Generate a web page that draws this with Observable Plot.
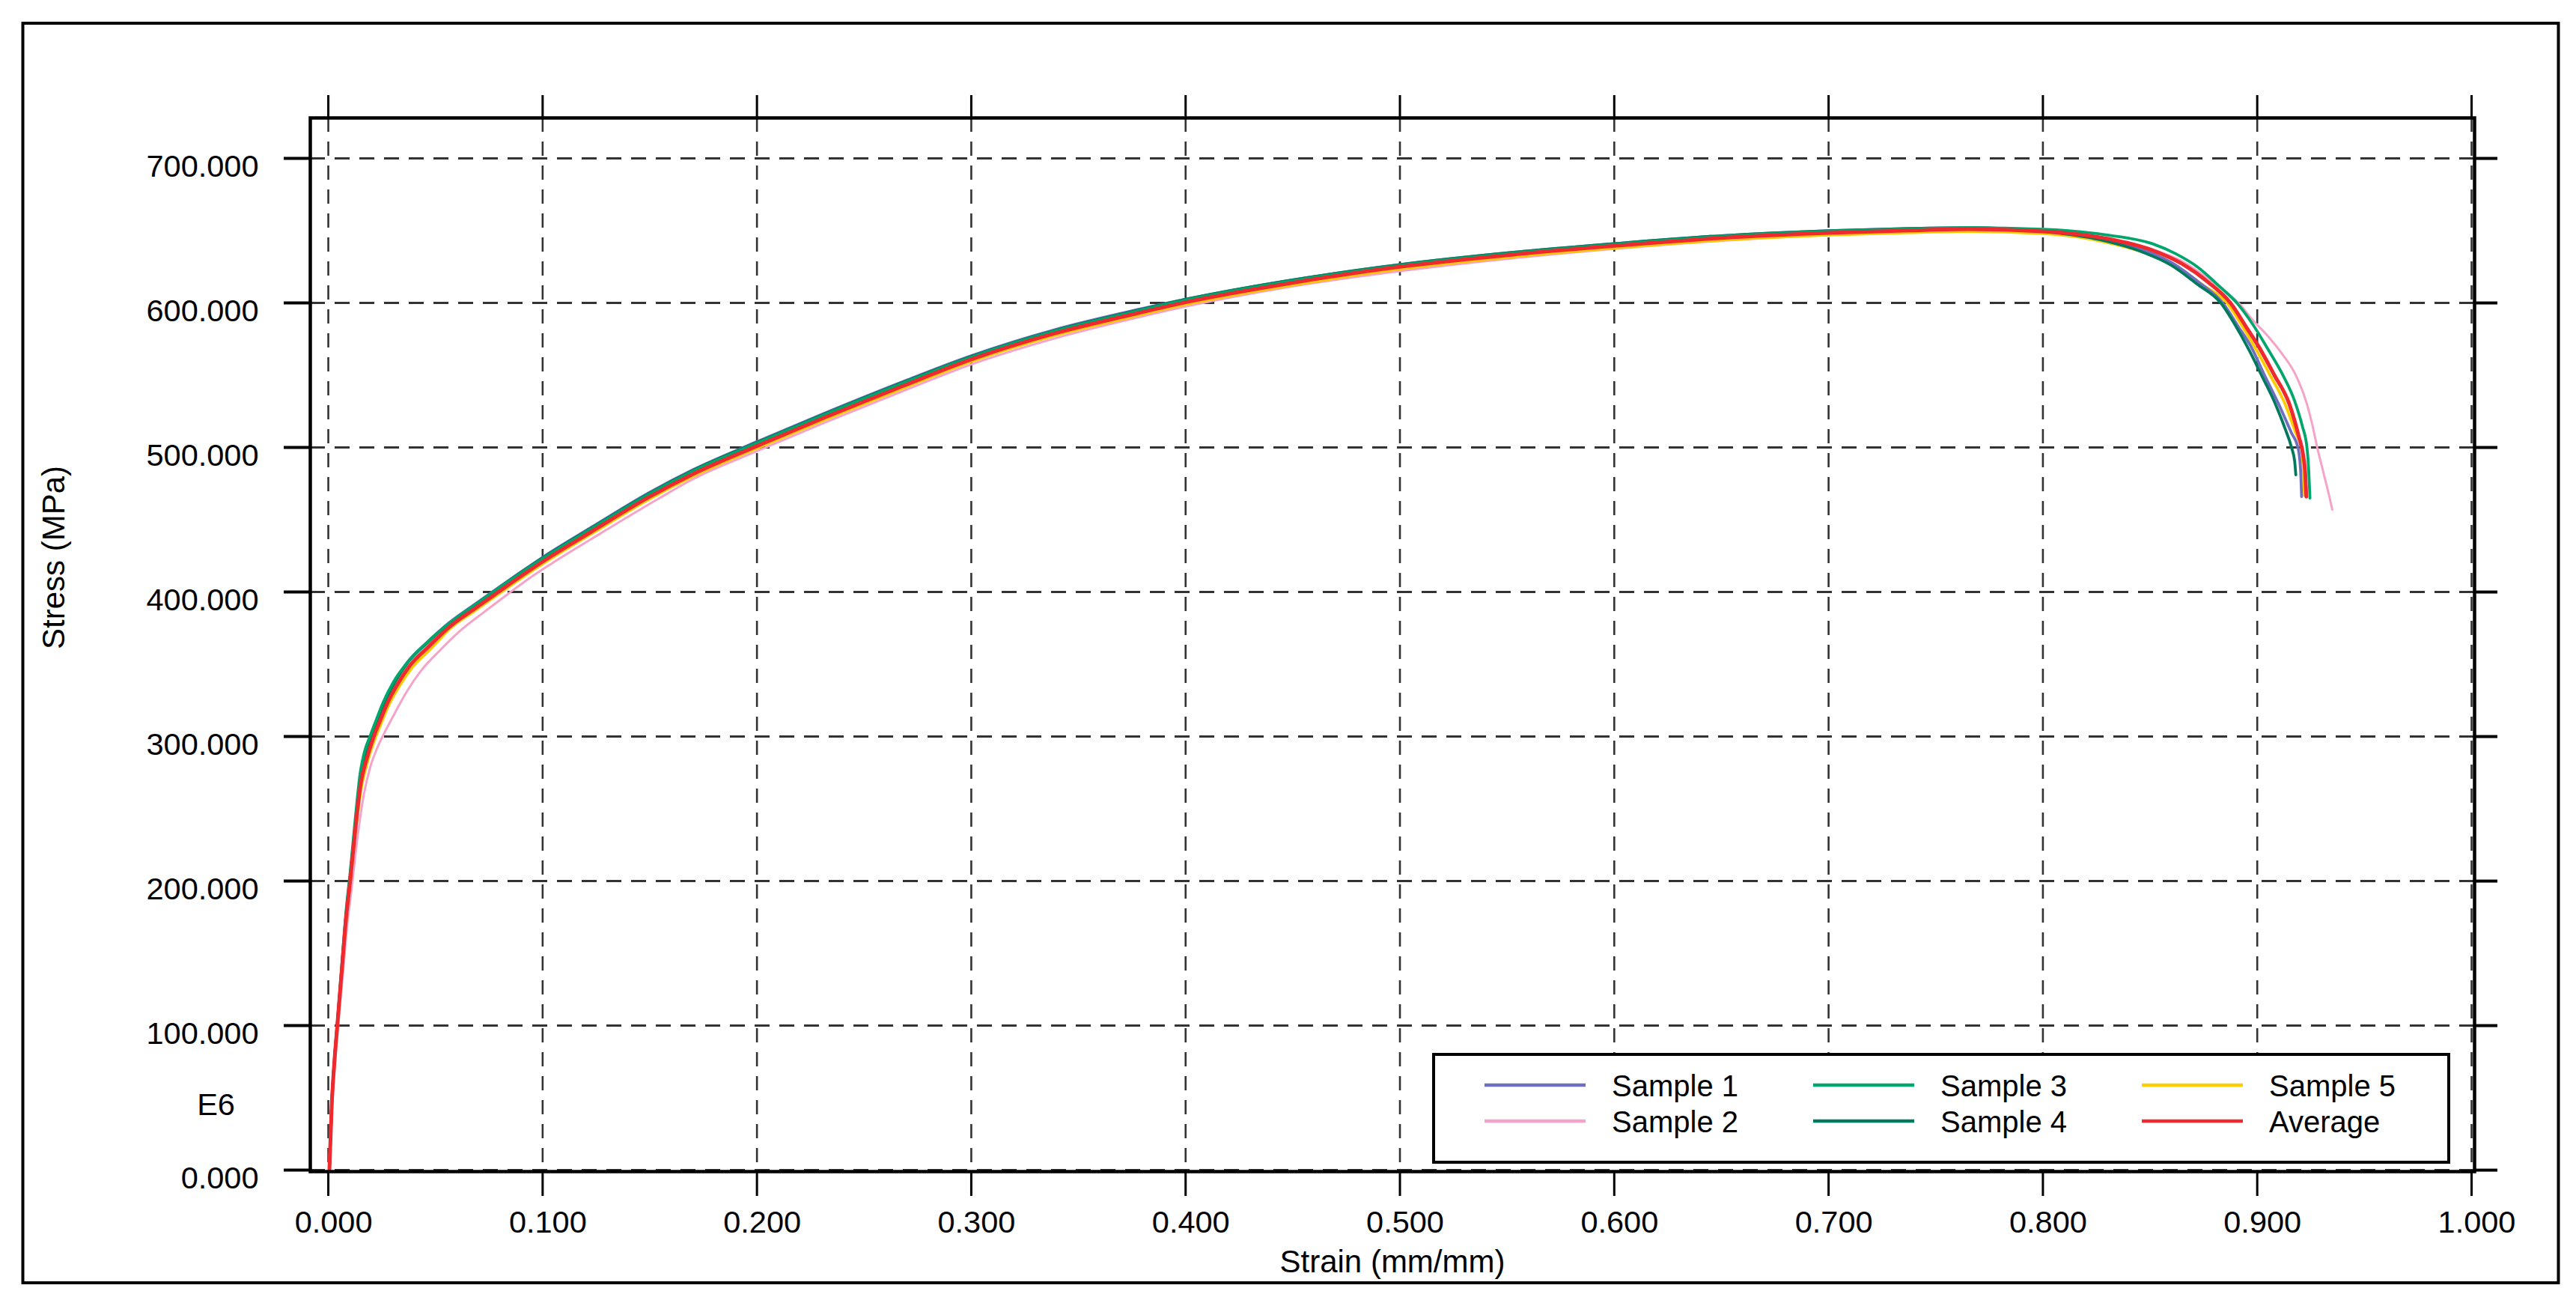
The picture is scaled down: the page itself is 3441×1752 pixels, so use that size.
<!DOCTYPE html>
<html>
<head>
<meta charset="utf-8">
<script src="https://cdn.jsdelivr.net/npm/d3@7"></script>
<script src="https://cdn.jsdelivr.net/npm/@observablehq/plot@0.6"></script>
<style>
  html, body { margin: 0; padding: 0; background: #ffffff; }
  svg { display: block; }
</style>
</head>
<body>
<div id="chart"></div>
<script>
// ---------- DATA (strain mm/mm, stress MPa) ----------
const seriesNames = ["Sample 1", "Sample 2", "Sample 3", "Sample 4", "Sample 5", "Average"];
const seriesColors = ["#6f6fbf", "#f5a3c8", "#00a66b", "#00795c", "#ffcc00", "#ee2a2f"];

const xTicks = [0, 0.1, 0.2, 0.3, 0.4, 0.5, 0.6, 0.7, 0.8, 0.9, 1.0];
const yTicks = [0, 100, 200, 300, 400, 500, 600, 700];

const sample1 = [
  [0.0005,0],[0.0016,45],[0.003,79],[0.0042,101],[0.0065,144],[0.0082,175],[0.0102,203],[0.0127,241],
  [0.0150,271],[0.0172,287],[0.0203,301],[0.0230,311.5],[0.0262,323.5],[0.0310,337.5],[0.037,351.5],[0.046,365],
  [0.0566,379],[0.0683,391.5],[0.0793,403],[0.0897,413.7],[0.100,424],[0.123,445],[0.150,469],[0.170,484.5],
  [0.200,504],[0.232,524],[0.268,545.5],[0.300,563.5],[0.339,581.5],[0.375,594.5],[0.400,602.5],[0.446,615],
  [0.500,626.5],[0.553,635],[0.600,641],[0.650,646.5],[0.700,650],[0.738,651.5],[0.765,652],[0.800,650],
  [0.828,644.5],[0.848,636],[0.861,627],[0.873,614],[0.8839,600],[0.891,584],[0.897,570],[0.9034,550],
  [0.910,530],[0.9160,510],[0.919,500],[0.9202,485],[0.9207,466]
];
const sample2 = [
  [0.0005,0],[0.0018,44],[0.0033,77],[0.0045,98],[0.0070,139],[0.0088,169],[0.0109,195],[0.0136,230],
  [0.0166,260],[0.0198,280],[0.0228,292],[0.0260,302],[0.0290,310.5],[0.0322,319.5],[0.037,332],[0.043,345],
  [0.052,359.5],[0.0614,373],[0.073,386.5],[0.0837,398.5],[0.0938,409.5],[0.104,419.5],[0.127,440.5],[0.154,464.5],
  [0.170,478],[0.200,497.5],[0.232,517.5],[0.268,539],[0.300,557.5],[0.339,575.5],[0.375,589],[0.400,597.5],
  [0.446,610.5],[0.500,622],[0.553,631],[0.600,637.5],[0.650,643],[0.700,647],[0.738,649],[0.765,650],
  [0.800,648.5],[0.830,644],[0.851,637],[0.866,628],[0.876,618],[0.885,608],[0.8913,600],[0.898,588],
  [0.905,577],[0.912,564],[0.918,550],[0.923,531],[0.9255,517],[0.928,500],[0.931,482],[0.9335,467],[0.935,457]
];
const sample3 = [
  [0.0005,0],[0.0016,46],[0.003,80],[0.0042,102],[0.0065,146],[0.0082,178],[0.0102,206],[0.0127,245],
  [0.0148,274],[0.0168,289],[0.0198,301.5],[0.0225,312],[0.0257,324],[0.0305,338],[0.037,351.5],[0.046,365],
  [0.0566,378.5],[0.0683,391],[0.0793,402.5],[0.0897,413],[0.100,423],[0.123,444],[0.150,468],[0.170,483.5],
  [0.200,503],[0.232,523],[0.268,544.5],[0.300,562.5],[0.339,580.5],[0.375,593.5],[0.400,602],[0.446,614.5],
  [0.500,626],[0.553,634.5],[0.600,640.5],[0.650,646],[0.700,649.5],[0.738,651.2],[0.765,652],[0.800,651],
  [0.830,647],[0.851,641],[0.862,634],[0.872,625],[0.882,612],[0.8905,600],[0.898,585],[0.905,568],
  [0.912,550],[0.9175,532],[0.921,515],[0.9232,500],[0.924,485],[0.9246,465]
];
const sample4 = [
  [0.0005,0],[0.0016,46],[0.003,79],[0.0042,101],[0.0065,144],[0.0082,175],[0.0102,203],[0.0127,240],
  [0.0150,270.5],[0.0172,286.5],[0.0201,300.5],[0.0228,311],[0.0260,323],[0.0308,337],[0.037,351],[0.046,364.5],
  [0.0566,378.5],[0.0683,391],[0.0793,402.5],[0.0897,413.3],[0.100,423.5],[0.123,444.5],[0.150,468.5],[0.170,484],
  [0.200,503.5],[0.232,523.5],[0.268,545],[0.300,563],[0.339,581],[0.375,594],[0.400,602.5],[0.446,615],
  [0.500,626.5],[0.553,635],[0.600,641],[0.650,646.5],[0.700,650],[0.738,651.5],[0.765,652],[0.800,649.5],
  [0.826,644],[0.846,635.5],[0.860,626],[0.872,613],[0.883,600],[0.890,584],[0.896,568],[0.902,550],
  [0.9085,530],[0.913,513],[0.916,500],[0.9175,490],[0.918,481]
];
const sample5 = [
  [0.0005,0],[0.0016,44],[0.003,77],[0.0042,99],[0.0065,141],[0.0082,171],[0.0102,198],[0.0127,234],
  [0.0155,265],[0.0182,282],[0.0218,298.5],[0.0246,309],[0.0280,321],[0.0330,334.5],[0.039,347.5],[0.048,361],
  [0.0566,374.5],[0.0683,387],[0.0793,398.5],[0.0897,409.3],[0.100,419.5],[0.123,440.5],[0.150,464.5],[0.170,480],
  [0.200,499.5],[0.232,519.5],[0.268,541],[0.300,559.5],[0.339,577.5],[0.375,590.5],[0.400,599],[0.446,611.5],
  [0.500,623.5],[0.553,632],[0.600,638],[0.650,643.5],[0.700,647],[0.738,648.7],[0.765,649.5],[0.800,648],
  [0.828,642.5],[0.848,634.5],[0.8625,625],[0.875,612],[0.8859,600],[0.893,584],[0.899,569],[0.906,550],
  [0.913,530],[0.918,510],[0.9206,500],[0.9215,484],[0.922,467]
];
const average = [
  [0.0005,0],[0.0016,45],[0.003,78],[0.0042,100],[0.0065,142],[0.0082,173],[0.0102,200],[0.0127,237],
  [0.0152,268],[0.0178,284],[0.0212,300],[0.0240,310.5],[0.0272,322],[0.0320,335.5],[0.038,349],[0.047,362.5],
  [0.0566,376],[0.0683,388.5],[0.0793,400],[0.0897,410.8],[0.100,421],[0.123,442],[0.150,466],[0.170,481.5],
  [0.200,501],[0.232,521],[0.268,542.5],[0.300,561],[0.339,579],[0.375,592],[0.400,600.5],[0.446,613],
  [0.500,625],[0.553,633.5],[0.600,639.5],[0.650,645],[0.700,648.5],[0.738,650.2],[0.765,651],[0.800,649.5],
  [0.830,644.5],[0.851,636.5],[0.865,627],[0.877,614.5],[0.8875,600],[0.895,583],[0.901,569],[0.908,550],
  [0.915,530],[0.9195,507],[0.9214,495],[0.9224,482],[0.9229,466]
];

const seriesData = [sample1, sample2, sample3, sample4, sample5, average];
// drawing order (back to front)
const drawOrder = [1, 4, 0, 3, 2, 5];

// ---------- LAYOUT ----------
const W = 3441, H = 1752;
const FONT = "'Liberation Sans', Arial, Helvetica, sans-serif";
const fmt = d3.format(".3f");

const lineMarks = drawOrder.map(i => Plot.line(seriesData[i], {
  x: d => d[0], y: d => d[1],
  stroke: seriesColors[i],
  strokeWidth: i === 5 ? 5 : (i === 1 ? 3 : 3.8),
  curve: "monotone-x"
}));

const plot = Plot.plot({
  width: W, height: H,
  marginLeft: 414, marginRight: 136, marginTop: 157, marginBottom: 188,
  style: {fontFamily: FONT, fontSize: "42px", background: "#ffffff", color: "#000"},
  x: {domain: [-0.0084, 1.0014]},
  y: {domain: [-1, 728]},
  marks: [
    Plot.gridX(xTicks, {stroke: "#333", strokeOpacity: 1, strokeWidth: 2.6, strokeDasharray: "19,13"}),
    Plot.gridY(yTicks, {stroke: "#333", strokeOpacity: 1, strokeWidth: 3, strokeDasharray: "20,13"}),
    ...lineMarks,
    Plot.frame({stroke: "#000", strokeWidth: 4.5}),
    // tick marks on all four sides
    Plot.axisY(yTicks, {anchor: "left", tickSize: 35, strokeWidth: 4, fill: null, label: null}),
    Plot.axisY(yTicks, {anchor: "right", tickSize: 30, strokeWidth: 4, fill: null, label: null}),
    Plot.axisX(xTicks, {anchor: "bottom", tickSize: 33, strokeWidth: 3, fill: null, label: null}),
    Plot.axisX(xTicks, {anchor: "top", tickSize: 31, strokeWidth: 3, fill: null, label: null}),
    // tick labels
    Plot.axisY(yTicks, {anchor: "left", tickSize: 0, tickPadding: 69, dy: 11, tickFormat: fmt,
      fontSize: 41.5, fontFamily: FONT, fill: "#000", label: null}),
    Plot.axisX(xTicks, {anchor: "bottom", tickSize: 0, tickPadding: 52, dx: 7, tickFormat: fmt,
      fontSize: 41.5, fontFamily: FONT, fill: "#000", label: null}),
    // axis titles
    Plot.text(["Stress (MPa)"], {frameAnchor: "left", rotate: -90, dx: -342, dy: 6,
      fontSize: 42, fontFamily: FONT, fill: "#000"}),
    Plot.text(["Strain (mm/mm)"], {frameAnchor: "bottom", lineAnchor: "bottom", dy: 134,
      fontSize: 42, fontFamily: FONT, fill: "#000"}),
    Plot.text(["E6"], {frameAnchor: "bottom-left", textAnchor: "middle", lineAnchor: "bottom",
      dx: -126, dy: -76, fontSize: 41.5, fontFamily: FONT, fill: "#000"})
  ]
});

const svg = d3.select(plot);

// outer border of the figure
svg.append("rect")
  .attr("x", 30.5).attr("y", 31).attr("width", 3387).attr("height", 1682)
  .attr("fill", "none").attr("stroke", "#000").attr("stroke-width", 4);

// legend box
const leg = svg.append("g")
  .attr("font-family", FONT).attr("font-size", 40).attr("text-anchor", "start");
leg.append("rect")
  .attr("x", 1915).attr("y", 1408).attr("width", 1356).attr("height", 144)
  .attr("fill", "#fff").attr("stroke", "#000").attr("stroke-width", 4);
const colX = [1983, 2422, 2861];
const rowY = [1449, 1497];
seriesNames.forEach((name, i) => {
  const c = Math.floor(i / 2), r = i % 2;
  leg.append("line")
    .attr("x1", colX[c]).attr("x2", colX[c] + 135)
    .attr("y1", rowY[r]).attr("y2", rowY[r])
    .attr("stroke", seriesColors[i]).attr("stroke-width", 4.5);
  leg.append("text")
    .attr("x", colX[c] + 170).attr("y", rowY[r] + 15)
    .attr("text-anchor", "start")
    .attr("fill", "#000").text(name);
});

document.getElementById("chart").appendChild(plot);
</script>
</body>
</html>
